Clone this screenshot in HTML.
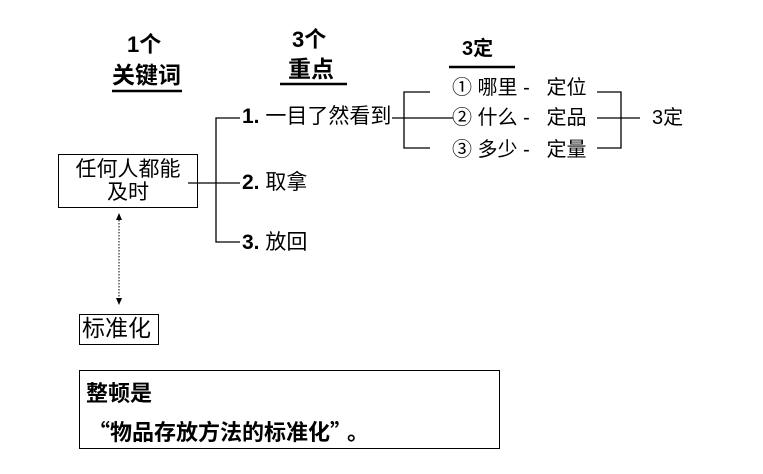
<!DOCTYPE html>
<html><head><meta charset="utf-8"><style>
body{margin:0;width:763px;height:474px;background:#fff;position:relative;overflow:hidden;font-family:"Liberation Sans","Noto Sans CJK SC",sans-serif;color:#000}
.t{position:absolute;white-space:nowrap;line-height:1}
.b{font-weight:bold}
.box{position:absolute;border:1px solid #000;box-sizing:border-box}
.q{font-family:"Noto Sans CJK SC",sans-serif}
</style></head><body>
<svg width="763" height="474" style="position:absolute;left:0;top:0" stroke="#000" stroke-width="1.3" fill="none">
<line x1="112" y1="91" x2="182" y2="91" stroke-width="2.5"/>
<line x1="280" y1="84" x2="347" y2="84" stroke-width="2.5"/>
<line x1="449" y1="67" x2="515" y2="67" stroke-width="2.5"/>
<polyline points="240,118 216,118 216,242 240,242"/>
<line x1="188" y1="183" x2="240" y2="183"/>
<line x1="392" y1="118" x2="453" y2="118"/>
<polyline points="430,92 404,92 404,148 430,148"/>
<polyline points="597,92 621,92 621,148 597,148"/>
<line x1="597" y1="118" x2="640" y2="118"/>
<line x1="119" y1="220" x2="119" y2="298" stroke-dasharray="1.5,1.5" stroke-width="1"/>
<polygon points="116,220 122,220 119,213" fill="#000" stroke="none"/>
<polygon points="116,298 122,298 119,305" fill="#000" stroke="none"/>
</svg>
<div class="t b" style="left:127px;top:34px;font-size:22px">1个</div>
<div class="t b" style="left:112px;top:64px;font-size:23px">关键词</div>
<div class="t b" style="left:292px;top:29px;font-size:22px">3个</div>
<div class="t b" style="left:288px;top:58px;font-size:23px">重点</div>
<div class="t b" style="left:462px;top:39px;font-size:20px">3定</div>
<div class="box" style="left:58px;top:154px;width:140px;height:54px"></div>
<div class="t" style="left:58px;top:158px;width:140px;text-align:center;font-size:21px;line-height:23px">任何人都能<br>及时</div>
<div class="t" style="left:242px;top:106px;font-size:21px"><b>1.</b> 一目了然看到</div>
<div class="t" style="left:242px;top:172px;font-size:21px"><b>2.</b> 取拿</div>
<div class="t" style="left:242px;top:232px;font-size:21px"><b>3.</b> 放回</div>
<div class="t" style="left:452px;top:78px;font-size:20px">① 哪里 -&nbsp;&nbsp;&nbsp;定位</div>
<div class="t" style="left:452px;top:108px;font-size:20px">② 什么 -&nbsp;&nbsp;&nbsp;定品</div>
<div class="t" style="left:452px;top:140px;font-size:20px">③ 多少 -&nbsp;&nbsp;&nbsp;定量</div>
<div class="t" style="left:652px;top:108px;font-size:20px">3定</div>
<div class="box" style="left:79px;top:314px;width:80px;height:31px"></div>
<div class="t" style="left:82px;top:317px;font-size:23px">标准化</div>
<div class="box" style="left:79px;top:370px;width:421px;height:79px"></div>
<div class="t b" style="left:86px;top:383px;font-size:22px">整顿是</div>
<div class="t b" style="left:88px;top:420px;font-size:22px"><span class="q">“</span>物品存放方法的标准化<span class="q" style="letter-spacing:6px">”。</span></div>
</body></html>
